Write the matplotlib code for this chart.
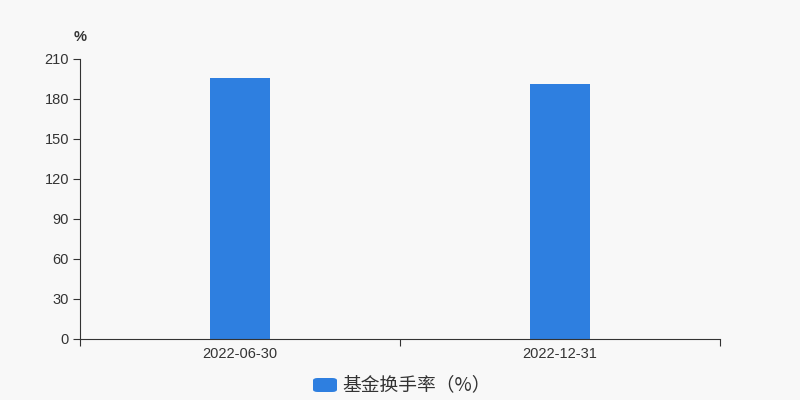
import matplotlib
matplotlib.use("Agg")
import matplotlib.pyplot as plt
from matplotlib.patches import FancyBboxPatch

categories = ["2022-06-30", "2022-12-31"]
values = [196.0, 191.6]
yticks = [0, 30, 60, 90, 120, 150, 180, 210]
series_name = "基金换手率（%）"

plt.rcParams['font.family'] = ['Noto Sans CJK SC', 'DejaVu Sans']
bg = "#f8f8f8"
bar_color = "#2e7fe0"
text_color = "#333333"
num_font = ['Liberation Sans', 'DejaVu Sans']

fig = plt.figure(figsize=(8, 4), dpi=100, facecolor=bg)
ax = fig.add_axes([80/800, 1-339/400, 640/800, 280/400], facecolor=bg)

x = [0.5, 1.5]
ax.bar(x, values, width=60/320, color=bar_color, zorder=2)
ax.set_xlim(0, 2)
ax.set_ylim(0, 210)
ax.set_yticks(yticks)
ax.set_yticklabels([str(t) for t in yticks], fontsize=10.5, color=text_color, family=num_font)
ax.set_xticks([0, 1, 2])
ax.set_xticklabels([])
ax.set_xticks(x, minor=True)
ax.set_xticklabels(categories, minor=True, fontsize=10.5, color=text_color, family=num_font)
ax.tick_params(axis='x', which='minor', length=0, pad=6)
ax.tick_params(axis='x', which='major', length=5, color=text_color)
ax.tick_params(axis='y', length=5, color=text_color, pad=3)
for s in ['top', 'right']:
    ax.spines[s].set_visible(False)
ax.spines['left'].set_color(text_color)
ax.spines['bottom'].set_color(text_color)

fig.text(80/800, 1-37/400, "%", fontsize=10.5, color=text_color, ha='center', va='center',
         family=num_font, fontweight='bold')

# legend
fig.patches.append(FancyBboxPatch((313/800, 1-392/400), 24/800, 14/400, boxstyle="round,pad=0,rounding_size=0.006",
                                  transform=fig.transFigure, facecolor=bar_color, edgecolor='none'))
fig.text(342/800, 1-385/400, series_name, fontsize=13.5, color=text_color, ha='left', va='center')

fig.savefig("out.png", dpi=100, facecolor=bg)
